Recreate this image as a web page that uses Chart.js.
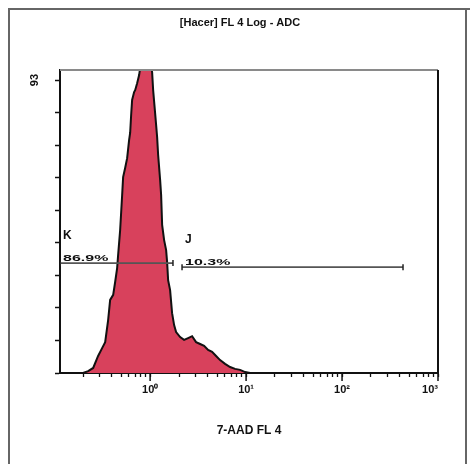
<!DOCTYPE html>
<html>
<head>
<meta charset="utf-8">
<script src="https://cdn.jsdelivr.net/npm/chart.js@4.4.1/dist/chart.umd.min.js"></script>
<style>
html,body{margin:0;padding:0;background:#fff;overflow:hidden}
canvas{display:block}
</style>
</head>
<body>
<canvas id="histo" width="470" height="464"></canvas>
<script>
// FL4 channel (log scale) and event counts
const channel = [0.200,0.226,0.255,0.287,0.316,0.340,0.365,0.383,0.412,0.432,0.453,0.464,0.487,0.511,0.523,0.549,0.576,0.604,0.619,0.634,0.649,0.681,0.698,0.732,0.768,0.787,0.825,0.866,0.908,0.953,1.000,1.049,1.075,1.127,1.155,1.183,1.212,1.271,1.302,1.334,1.399,1.468,1.503,1.540,1.615,1.694,1.778,1.865,2.054,2.259,2.488,2.738,3.013,3.317,3.652,4.019,4.424,4.870,5.358,6.04,6.81,7.68,8.66,9.77,11.0]
const counts = [0,0.6,1.6,5.4,7.9,9.8,16.8,23.2,24.8,28.9,33.3,37.5,45.4,56.5,62.2,65.1,68.2,74.0,76.2,81.9,86.7,89.2,89.8,92.0,94.6,96.8,99.3,97.4,100.0,98.1,98.7,95.5,89.8,82.5,78.7,74.9,69.2,61.3,56.5,47.0,42.2,39.0,35.2,29.5,26.3,19.0,15.2,13.0,11.4,10.5,11.1,11.7,9.8,9.2,8.6,7.3,6.7,5.4,4.1,2.9,1.9,1.3,1.0,0.3,0]

// gates
const gateNames = ["K","J"]
const gatePct = ["86.9%","10.3%"]
const gateFrom = [0.115, 2.15]
const gateTo = [1.73, 432]
const gateLevel = [34.9, 33.6]

// axes
const xMajor = [1,10,100,1000]
const xMajorLabels = ["10\u2070","10\u00b9","10\u00b2","10\u00b3"]
const yTicks = [0,10.3,20.7,31,41.3,51.7,62,72.3,82.7,93]
const yTopLabel = "93"

const FONT = "'Liberation Sans', Arial, sans-serif"

// minor log ticks for every decade shown
const xAllTicks = []
;[0.1,1,10,100].forEach(d=>{
    if(d>=1) xAllTicks.push(d)
    for(let m=2;m<=9;m++) xAllTicks.push(+(d*m).toPrecision(3))
})
xAllTicks.push(1000)

const gateSets = gateNames.map((n,i)=>({
    label: n,
    data: [{x:gateFrom[i],y:gateLevel[i]},{x:gateTo[i],y:gateLevel[i]}],
    borderColor: "#555",
    borderWidth: 1.6,
    pointStyle: "line",
    rotation: 90,
    pointRadius: 3,
    pointBorderColor: "#222",
    pointBorderWidth: 1.5,
    fill: false,
    order: 0
}))

const extras = {
    id: "extras",
    beforeDraw(chart){
        const ctx = chart.ctx
        ctx.save()
        ctx.strokeStyle = "#666"
        ctx.lineWidth = 2
        ctx.beginPath()
        ctx.moveTo(9,464); ctx.lineTo(9,9); ctx.lineTo(470,9)
        ctx.moveTo(466,9); ctx.lineTo(466,464)
        ctx.stroke()
        ctx.restore()
    },
    afterDatasetsDraw(chart){
        const {ctx, chartArea:a, scales:{x, y}} = chart
        ctx.save()
        // box top and right
        ctx.lineWidth = 2
        ctx.strokeStyle = "#8a8a8a"
        ctx.beginPath(); ctx.moveTo(a.left,a.top); ctx.lineTo(a.right,a.top); ctx.stroke()
        ctx.strokeStyle = "#111"
        ctx.beginPath(); ctx.moveTo(a.right,a.top); ctx.lineTo(a.right,a.bottom+1); ctx.stroke()

        // longer major ticks
        ctx.lineWidth = 1.5
        xMajor.forEach(v=>{
            const px = x.getPixelForValue(v)
            ctx.beginPath(); ctx.moveTo(px,a.bottom); ctx.lineTo(px,a.bottom+8); ctx.stroke()
        })

        // rotated top label of y axis
        ctx.fillStyle = "#111"
        ctx.font = "bold 11px " + FONT
        ctx.textAlign = "center"
        ctx.textBaseline = "middle"
        ctx.save()
        ctx.translate(35, y.getPixelForValue(+yTopLabel))
        ctx.rotate(-Math.PI/2)
        ctx.fillText(yTopLabel,0,0)
        ctx.restore()

        // gate names and percentages
        ctx.textAlign = "left"
        gateNames.forEach((n,i)=>{
            const px = x.getPixelForValue(gateFrom[i]) + 3
            const py = y.getPixelForValue(gateLevel[i])
            ctx.font = "bold 12px " + FONT
            ctx.textBaseline = "middle"
            ctx.fillText(n, px, py-27)
            ctx.font = "bold 10px " + FONT
            ctx.textBaseline = "alphabetic"
            ctx.save()
            ctx.translate(px, py-2)
            ctx.scale(1.6,0.85)
            ctx.fillText(gatePct[i],0,0)
            ctx.restore()
        })
        ctx.restore()
    }
}

new Chart(document.getElementById("histo"),{
    type: "line",
    data: {
        datasets: [
            ...gateSets,
            {
                label: "FL4",
                data: channel.map((c,i)=>({x:c,y:counts[i]})),
                borderColor: "#111",
                borderWidth: 2,
                backgroundColor: "#d8415c",
                fill: "origin",
                pointRadius: 0,
                tension: 0,
                order: 1
            }
        ]
    },
    options: {
        responsive: false,
        animation: false,
        layout: {padding: {left: 42, right: 32, top: 0, bottom: 0}},
        plugins: {
            legend: {display: false},
            tooltip: {enabled: false},
            title: {
                display: true,
                text: "[Hacer] FL 4 Log - ADC",
                color: "#111",
                font: {size: 11, weight: "bold", family: FONT, lineHeight: 1.2},
                padding: {top: 16, bottom: 40.8}
            }
        },
        scales: {
            x: {
                type: "logarithmic",
                min: 0.115,
                max: 1000,
                afterBuildTicks: s=>{ s.ticks = xAllTicks.map(v=>({value:v, major: xMajor.includes(v)})) },
                afterFit: s=>{ s.height = 91 },
                ticks: {
                    autoSkip: false,
                    maxRotation: 0,
                    minRotation: 0,
                    align: "inner",
                    padding: 6,
                    color: "#111",
                    font: {size: 11, weight: "bold", family: FONT},
                    callback: v=>{
                        const k = xMajor.indexOf(v)
                        return k<0 ? "" : xMajorLabels[k]
                    }
                },
                grid: {drawOnChartArea: false, drawTicks: true, tickLength: 4, color: "#111", tickWidth: 1.3},
                border: {color: "#111", width: 2},
                title: {
                    display: true,
                    text: "7-AAD FL 4",
                    color: "#111",
                    font: {size: 12, weight: "bold", family: FONT, lineHeight: 1.2},
                    padding: {top: 0, bottom: 26}
                }
            },
            y: {
                min: 0,
                max: 96.2,
                afterBuildTicks: s=>{ s.ticks = yTicks.map(v=>({value:v})) },
                afterFit: s=>{ s.width = 18 },
                ticks: {callback: ()=>"", padding: 0},
                grid: {drawOnChartArea: false, drawTicks: true, tickLength: 5, color: "#111", tickWidth: 1.5},
                border: {color: "#111", width: 2}
            }
        }
    },
    plugins: [extras]
})
</script>
</body>
</html>
